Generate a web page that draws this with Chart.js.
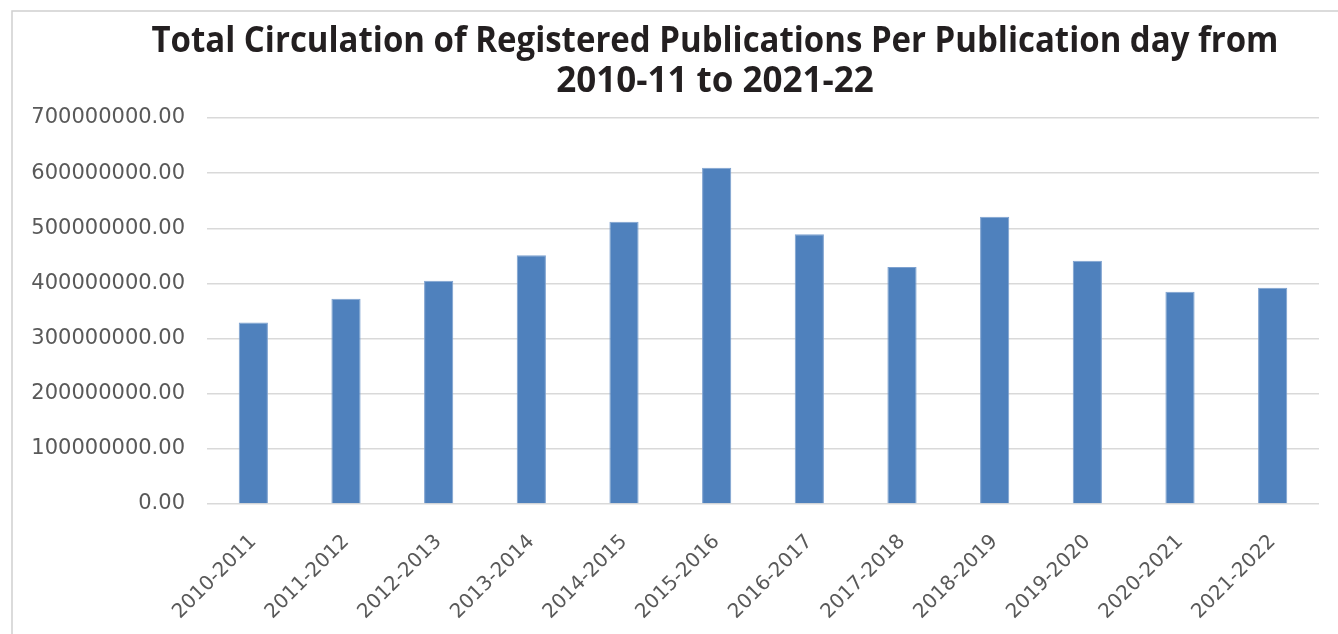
<!DOCTYPE html>
<html>
<head>
<meta charset="utf-8">
<script src="https://cdn.jsdelivr.net/npm/chart.js@4"></script>
<style>
  html, body { margin: 0; padding: 0; background: #ffffff; }
  #wrap { width: 1338px; height: 634px; position: relative; }
</style>
</head>
<body>
<div id="wrap"><canvas id="c" width="1338" height="634"></canvas></div>
<script>
const titleLines = ["Total Circulation of Registered Publications Per Publication day from", "2010-11 to 2021-22"];
const categories = ["2010-2011","2011-2012","2012-2013","2013-2014","2014-2015","2015-2016","2016-2017","2017-2018","2018-2019","2019-2020","2020-2021","2021-2022"];
const circulation = [329000000, 372000000, 405000000, 451000000, 512000000, 610000000, 489000000, 430000000, 521000000, 441000000, 385000000, 392000000];
const yTickMax = 700000000;
const yTickStep = 100000000;

const framePlugin = {
  id: 'frameAndTitle',
  beforeDraw(chart) {
    const ctx = chart.ctx;
    ctx.save();
    ctx.fillStyle = '#ffffff';
    ctx.fillRect(0, 0, chart.width, chart.height);
    ctx.strokeStyle = '#d0d0d0';
    ctx.lineWidth = 1.5;
    ctx.strokeRect(12, 11, chart.width + 20, chart.height + 20);
    ctx.restore();
  },
  afterDraw(chart) {
    const ctx = chart.ctx;
    ctx.save();
    ctx.fillStyle = '#231f20';
    ctx.font = 'bold 35px "Open Sans"';
    ctx.textAlign = 'center';
    ctx.textBaseline = 'alphabetic';
    ctx.fillText(titleLines[0], 715, 52, 1127);
    ctx.fillText(titleLines[1], 715, 92);
    ctx.restore();
  }
};

new Chart(document.getElementById('c'), {
  type: 'bar',
  data: {
    labels: categories,
    datasets: [{
      data: circulation,
      backgroundColor: '#4f81bd',
      borderColor: '#7da1cf',
      borderWidth: 1,
      categoryPercentage: 1.0,
      barPercentage: 0.315
    }]
  },
  plugins: [framePlugin],
  options: {
    responsive: false,
    animation: false,
    layout: { padding: { top: 118, right: 19, left: 0, bottom: 0 } },
    plugins: {
      legend: { display: false },
      title: { display: false },
      tooltip: { enabled: false }
    },
    scales: {
      x: {
        grid: { display: false, drawTicks: false },
        border: { display: false },
        ticks: {
          color: '#595959',
          font: { family: '"DejaVu Sans"', size: 20 },
          minRotation: 45,
          maxRotation: 45,
          padding: 26
        },
        afterFit(scale) { scale.height = 130; }
      },
      y: {
        min: 0,
        max: yTickMax,
        grid: { color: '#d9d9d9', lineWidth: 1.5, drawTicks: false },
        border: { display: false },
        ticks: {
          stepSize: yTickStep,
          color: '#595959',
          font: { family: '"DejaVu Sans"', size: 21 },
          padding: 22,
          callback: (v) => Number(v).toFixed(2)
        },
        afterFit(scale) { scale.width = 207; }
      }
    }
  }
});
</script>
</body>
</html>
